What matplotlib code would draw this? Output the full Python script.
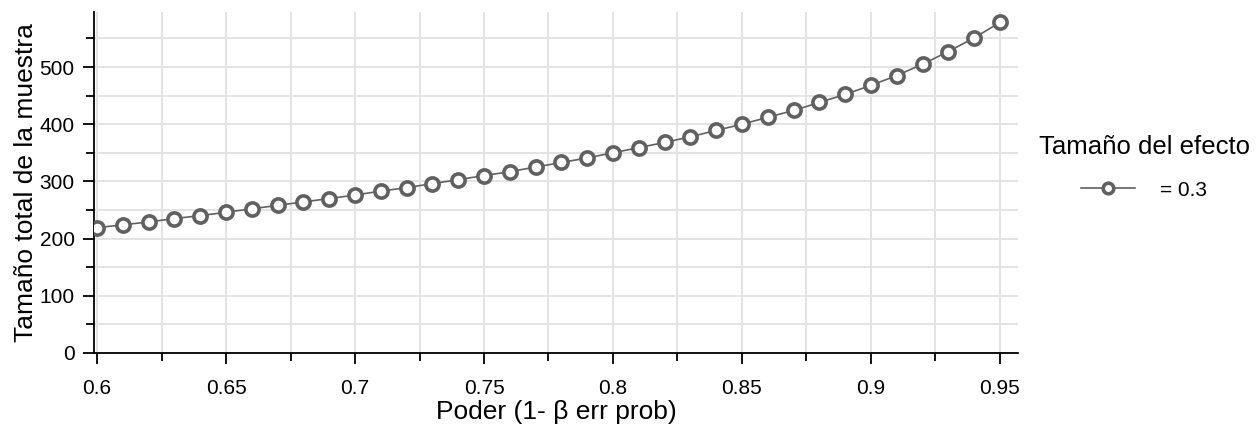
import numpy as np
import matplotlib
matplotlib.use("Agg")
import matplotlib.pyplot as plt
from matplotlib.ticker import MultipleLocator, FuncFormatter

# power values (x) and total sample size (y)
power = [0.60, 0.61, 0.62, 0.63, 0.64, 0.65, 0.66, 0.67, 0.68, 0.69,
         0.70, 0.71, 0.72, 0.73, 0.74, 0.75, 0.76, 0.77, 0.78, 0.79,
         0.80, 0.81, 0.82, 0.83, 0.84, 0.85, 0.86, 0.87, 0.88, 0.89,
         0.90, 0.91, 0.92, 0.93, 0.94, 0.95]
sample_size = [219, 224, 229, 235, 240, 246, 252, 258, 264, 270,
               276, 283, 289, 296, 303, 310, 317, 325, 333, 341,
               350, 359, 368, 378, 389, 400, 412, 424, 438, 452,
               468, 485, 505, 527, 551, 578]
series_label = "= 0.3"
legend_title = "Tamaño del efecto"
x_label = "Poder (1- β err prob)"
y_label = "Tamaño total de la muestra"

plt.rcParams['font.family'] = ['Liberation Sans', 'DejaVu Sans']

fig = plt.figure(figsize=(12.58, 4.33), dpi=100)
ax = fig.add_axes([0.0747, 0.185, 0.7345, 0.787])

grid_col = '#e3e3e3'
ax.plot(power, sample_size, color='#606060', lw=1.2, marker='o', ms=9.5,
        mfc='white', mec='#606060', mew=2.6, label=series_label, zorder=3)

ax.set_xlim(0.5988, 0.957)
ax.set_ylim(0, 596)
ax.xaxis.set_major_locator(MultipleLocator(0.05))
ax.xaxis.set_minor_locator(MultipleLocator(0.025))
ax.yaxis.set_major_locator(MultipleLocator(100))
ax.yaxis.set_minor_locator(MultipleLocator(50))
ax.xaxis.set_major_formatter(FuncFormatter(lambda v, p: ('%.2f' % v).rstrip('0')))
ax.grid(which='both', color=grid_col, lw=1.4, zorder=0)
ax.set_axisbelow(True)

for s in ['top', 'right']:
    ax.spines[s].set_visible(False)
for s in ['left', 'bottom']:
    ax.spines[s].set_linewidth(1.3)
ax.tick_params(which='major', length=8, width=1.3, labelsize=15, pad=6)
ax.tick_params(axis='x', which='major', pad=11)
ax.tick_params(which='minor', length=6, width=1.3)

ax.set_xlabel(x_label, fontsize=19, labelpad=1)
ax.set_ylabel(y_label, fontsize=19, labelpad=1)

leg = ax.legend(title=legend_title, loc='center left', bbox_to_anchor=(1.002, 0.545),
                frameon=False, fontsize=15, title_fontsize=18.5,
                handlelength=2.6, handletextpad=1.2, markerscale=0.8)
leg._legend_box.sep = 16

fig.savefig("out.png", dpi=100)
